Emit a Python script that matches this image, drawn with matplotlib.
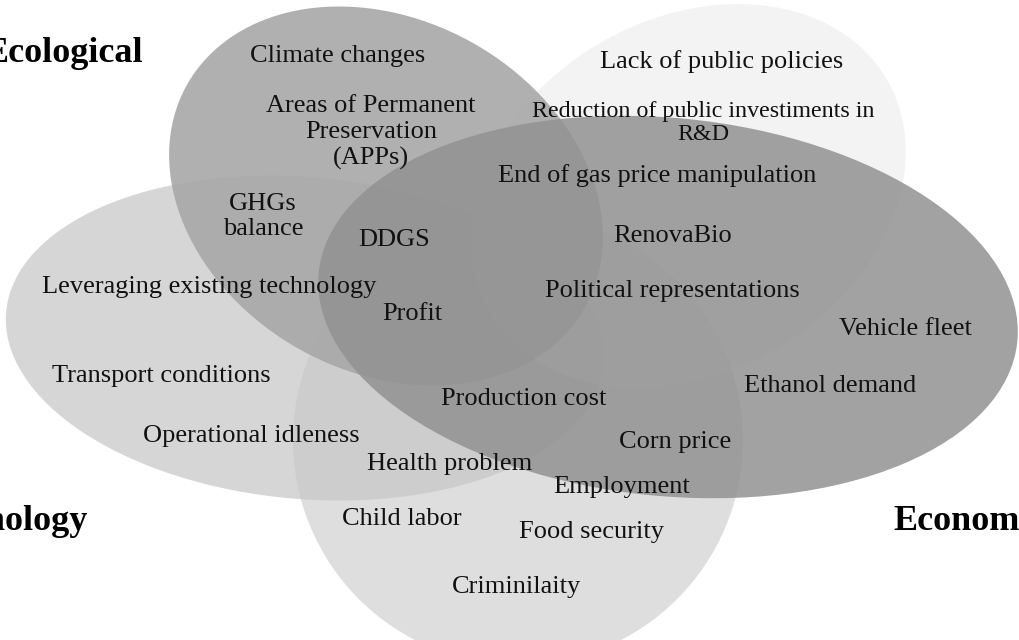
import matplotlib
matplotlib.use("Agg")
import matplotlib.pyplot as plt
from matplotlib.patches import Ellipse

# ---- data ----
set_names = ["Technology", "Social", "Political", "Ecological", "Economic"]
set_labels = ["Ecological", "Technology", "Economic"]
items = [
    "Climate changes",
    "Areas of Permanent\nPreservation\n(APPs)",
    "GHGs\nbalance",
    "DDGS",
    "Leveraging existing technology",
    "Profit",
    "Lack of public policies",
    "Reduction of public investiments in\nR&D",
    "End of gas price manipulation",
    "RenovaBio",
    "Political representations",
    "Vehicle fleet",
    "Ethanol demand",
    "Production cost",
    "Corn price",
    "Transport conditions",
    "Operational idleness",
    "Health problem",
    "Employment",
    "Child labor",
    "Food security",
    "Criminilaity",
]

# ---- layout (pixel coordinates, y downwards; y = baseline of last line) ----
shapes = {
    "Technology": dict(xy=(305, 338), w=600, h=322, ang=5, fc=(188, 188, 188), a=0.6),
    "Social":     dict(xy=(518, 440), w=450, h=450, ang=0, fc=(200, 200, 200), a=0.6),
    "Political":  dict(xy=(688, 196), w=461, h=353, ang=-30.6, fc=(233, 233, 233), a=0.5),
    "Ecological": dict(xy=(386, 196), w=456, h=352, ang=29, fc=(168, 168, 168), a=0.9),
    "Economic":   dict(xy=(668, 307), w=702, h=378, ang=5.65, fc=(146, 146, 146), a=0.85),
}
item_pos = [
    (338, 62), (371, 165), (263, 235), (394, 246), (209, 293), (412, 320),
    (722, 68), (703, 140), (657, 182), (673, 242), (672, 297),
    (905, 335), (830, 392), (524, 405), (675, 448),
    (161, 382), (251, 442), (450, 470), (622, 493),
    (402, 525), (592, 538), (517, 593),
]
item_size = [19] * len(items)
item_size[7] = 17.3
item_ls = [1.0] * len(items)
item_ls[1] = 1.24
item_ls[2] = 1.2
item_ls[7] = 1.1
label_pos = [(143, 62, "right"), (88, 530, "right"), (893, 530, "left")]

fig = plt.figure(figsize=(10.2, 6.4), dpi=100)
ax = fig.add_axes([0, 0, 1, 1])
ax.set_xlim(0, 1020)
ax.set_ylim(640, 0)
ax.axis("off")

for name in set_names:
    s = shapes[name]
    fc = tuple(c / 255 for c in s["fc"])
    ax.add_patch(Ellipse(s["xy"], s["w"], s["h"], angle=s["ang"],
                         facecolor=fc, alpha=s["a"], edgecolor="none"))

serif = ["Liberation Serif", "DejaVu Serif"]
for txt, (x, y), fs, ls in zip(items, item_pos, item_size, item_ls):
    ax.text(x, y, txt, ha="center", va="baseline", fontsize=fs,
            family=serif, color="#111111", linespacing=ls, multialignment="center")

for txt, (x, y, ha) in zip(set_labels, label_pos):
    ax.text(x, y, txt, ha=ha, va="baseline", fontsize=26, fontweight="bold",
            family=serif, color="black")

fig.savefig("out.png", dpi=100)
